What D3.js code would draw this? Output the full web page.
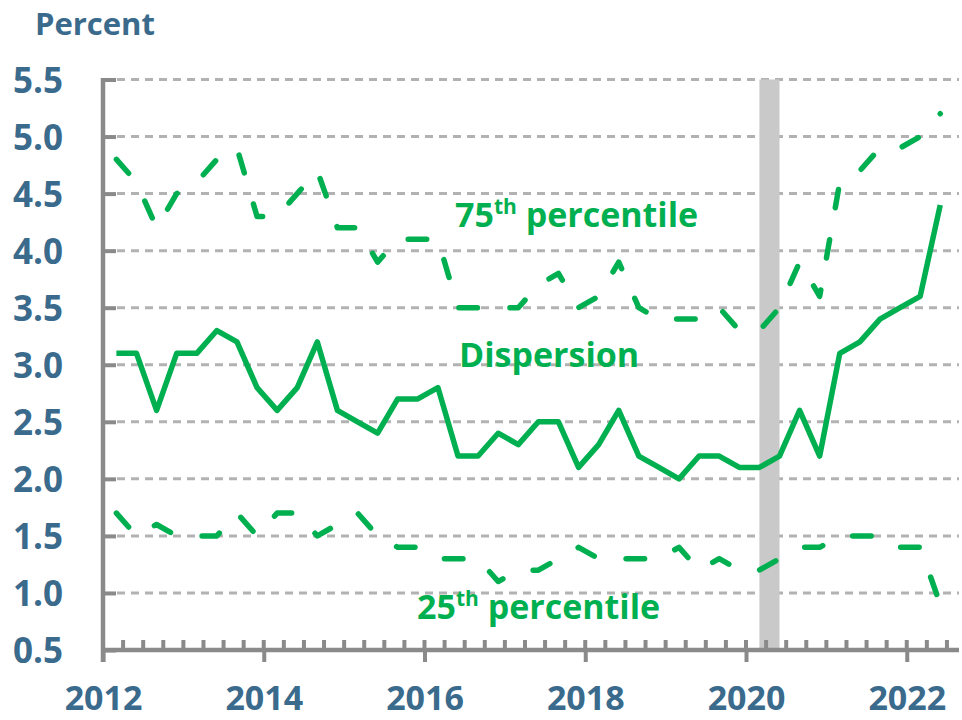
<!DOCTYPE html>
<html lang="en">
  <head>
    <meta charset="utf-8">
    <title>Dispersion</title>
    <script src="https://cdnjs.cloudflare.com/ajax/libs/d3/7.8.5/d3.min.js"></script>
    <style>
      body { margin: 0; background: #fff; }
      svg { display: block; font-family: "Open Sans", sans-serif; font-weight: bold; }
      .tick-label { fill: #3a6a8c; }
      .series-label { fill: #00b050; }
    </style>
  </head>
  <body>
    <div id="chart"></div>
    <script>
    // quarterly observations, 2012Q1 .. 2022Q2
    const startYear = 2012;
    const nQuarters = 42;
    const quarters = d3.range(nQuarters).map(i => startYear + (2 + 3 * i) / 12);

    const dispersion = [3.1, 3.1, 2.6, 3.1, 3.1, 3.3, 3.2, 2.8, 2.6, 2.8,
                        3.2, 2.6, 2.5, 2.4, 2.7, 2.7, 2.8, 2.2, 2.2, 2.4,
                        2.3, 2.5, 2.5, 2.1, 2.3, 2.6, 2.2, 2.1, 2.0, 2.2,
                        2.2, 2.1, 2.1, 2.2, 2.6, 2.2, 3.1, 3.2, 3.4, 3.5,
                        3.6, 4.4];
    const p75 = [4.8, 4.6, 4.2, 4.5, 4.6, 4.8, 4.9, 4.3, 4.3, 4.5,
                 4.7, 4.2, 4.2, 3.9, 4.1, 4.1, 4.1, 3.5, 3.5, 3.5,
                 3.5, 3.7, 3.8, 3.5, 3.6, 3.9, 3.5, 3.4, 3.4, 3.4,
                 3.5, 3.3, 3.3, 3.5, 3.9, 3.6, 4.6, 4.7, 4.9, 4.9,
                 5.0, 5.2];
    const p25 = [1.7, 1.5, 1.6, 1.5, 1.5, 1.5, 1.7, 1.5, 1.7, 1.7,
                 1.5, 1.6, 1.7, 1.5, 1.4, 1.4, 1.3, 1.3, 1.3, 1.1,
                 1.2, 1.2, 1.3, 1.4, 1.3, 1.3, 1.3, 1.3, 1.4, 1.2,
                 1.3, 1.2, 1.2, 1.3, 1.4, 1.4, 1.5, 1.5, 1.5, 1.4,
                 1.4, 0.9];

    const yTicks = [0.5, 1.0, 1.5, 2.0, 2.5, 3.0, 3.5, 4.0, 4.5, 5.0, 5.5];
    const xTicks = [2012, 2014, 2016, 2018, 2020, 2022];
    const recession = [2020 + 2 / 12, 2020 + 5 / 12];

    const w = 962, h = 720;
    const green = "#00b050";
    const axisGrey = "#8a8a8a";

    const x = d3.scaleLinear().domain([2012, 2022.65]).range([103, 959]);
    const y = d3.scaleLinear().domain([0.5, 5.5]).range([650, 79.5]);

    const svg = d3.select("#chart").append("svg")
      .attr("width", w)
      .attr("height", h);

    // gridlines
    svg.append("g")
      .selectAll("line")
      .data(yTicks.slice(1))
      .enter()
      .append("line")
      .attr("x1", 117)
      .attr("x2", 959)
      .attr("y1", d => y(d))
      .attr("y2", d => y(d))
      .attr("stroke", "#b2b2b2")
      .attr("stroke-width", 3)
      .attr("stroke-dasharray", "8,6");

    // recession band
    svg.append("rect")
      .attr("x", x(recession[0]))
      .attr("width", x(recession[1]) - x(recession[0]))
      .attr("y", y(5.5))
      .attr("height", y(0.5) - y(5.5))
      .attr("fill", "#c9c9c9");

    // y axis: ticks point inward, labels on the left
    const yAxis = d3.axisLeft(y)
      .tickValues(yTicks)
      .tickSize(-13)
      .tickPadding(40)
      .tickFormat(d3.format(".1f"));
    const gy = svg.append("g")
      .attr("transform", "translate(" + x(2012) + ",0)")
      .call(yAxis);
    gy.select(".domain").remove();
    gy.selectAll(".tick line").attr("stroke", axisGrey).attr("stroke-width", 4);
    gy.selectAll(".tick text")
      .attr("class", "tick-label")
      .attr("font-size", 35)
      .attr("font-family", "Open Sans")
      .attr("font-weight", "bold")
      .attr("dy", "0.36em");
    svg.append("line")
      .attr("x1", x(2012)).attr("x2", x(2012))
      .attr("y1", y(5.5) - 1.5).attr("y2", 662)
      .attr("stroke", axisGrey).attr("stroke-width", 4.5);

    // x axis: quarterly minor ticks above, biennial major ticks below
    const minor = d3.range(2012.25, 2022.6, 0.25);
    svg.append("g")
      .selectAll("line")
      .data(minor)
      .enter()
      .append("line")
      .attr("x1", d => x(d)).attr("x2", d => x(d))
      .attr("y1", 640).attr("y2", 650)
      .attr("stroke", axisGrey).attr("stroke-width", 4);

    const xAxis = d3.axisBottom(x)
      .tickValues(xTicks)
      .tickSize(12)
      .tickPadding(24)
      .tickFormat(d3.format("d"));
    const gx = svg.append("g")
      .attr("transform", "translate(0," + y(0.5) + ")")
      .call(xAxis);
    gx.select(".domain").remove();
    gx.selectAll(".tick line").attr("stroke", axisGrey).attr("stroke-width", 4);
    gx.selectAll(".tick text")
      .attr("class", "tick-label")
      .attr("font-size", 34)
      .attr("font-family", "Open Sans")
      .attr("font-weight", "bold");
    svg.append("line")
      .attr("x1", x(2012) - 2).attr("x2", 959)
      .attr("y1", y(0.5)).attr("y2", y(0.5))
      .attr("stroke", axisGrey).attr("stroke-width", 4.5);

    // series
    const line = d3.line()
      .x((d, i) => x(quarters[i]))
      .y(d => y(d));

    svg.append("path")
      .datum(p75)
      .attr("d", line)
      .attr("fill", "none")
      .attr("stroke", green)
      .attr("stroke-width", 5.5)
      .attr("stroke-linecap", "round")
      .attr("stroke-linejoin", "round")
      .attr("stroke-dasharray", "18.5,32.5");

    svg.append("path")
      .datum(p25)
      .attr("d", line)
      .attr("fill", "none")
      .attr("stroke", green)
      .attr("stroke-width", 5.5)
      .attr("stroke-linecap", "round")
      .attr("stroke-linejoin", "round")
      .attr("stroke-dasharray", "18.5,32.5");

    svg.append("path")
      .datum(dispersion)
      .attr("d", line)
      .attr("fill", "none")
      .attr("stroke", green)
      .attr("stroke-width", 5.5)
      .attr("stroke-linejoin", "round");

    // labels
    svg.append("text")
      .attr("class", "tick-label")
      .attr("x", 35)
      .attr("y", 35)
      .attr("font-size", 31)
      .text("Percent");

    function pctLabel(num, lx, ly) {
      const t = svg.append("text")
        .attr("class", "series-label")
        .attr("x", lx)
        .attr("y", ly)
        .attr("font-size", 34);
      t.append("tspan").text(num);
      t.append("tspan").attr("font-size", 21).attr("dy", -13).text("th");
      t.append("tspan").attr("dy", 13).text(" percentile");
    }
    pctLabel("75", 455, 227);
    pctLabel("25", 417, 619);

    svg.append("text")
      .attr("class", "series-label")
      .attr("x", 459)
      .attr("y", 367)
      .attr("font-size", 34)
      .text("Dispersion");
    </script>
  </body>
</html>
